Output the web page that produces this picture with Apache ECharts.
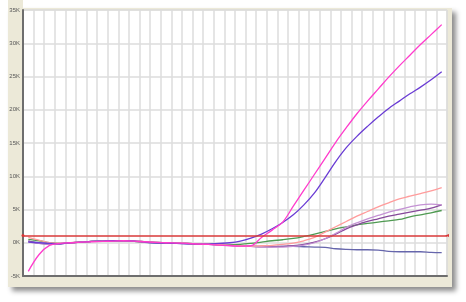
<!DOCTYPE html>
<html>
<head>
<meta charset="utf-8">
<script src="https://cdn.jsdelivr.net/npm/echarts@6/dist/echarts.min.js"></script>
<style>
html,body{margin:0;padding:0;background:#ffffff;}
#chart{width:466px;height:302px;}
</style>
</head>
<body>
<div id="chart"></div>
<script>
const cycles = [1,2,3,4,5,6,7,8,9,10,11,12,13,14,15,16,17,18,19,20,21,22,23,24,25,26,27,28,29,30,31,32,33,34,35,36,37,38,39,40];
const yTicks = [-5000,0,5000,10000,15000,20000,25000,30000,35000];
const threshold = 1100;

const magenta = [-4300,-1800,-400,-100,0,100,150,200,250,300,250,150,50,0,-50,-100,-200,-250,-350,-450,-500,-450,800,1900,3100,5500,7900,10300,12700,15100,17300,19400,21300,23100,24900,26600,28200,29800,31300,32800];
const violet = [100,0,-100,-150,0,100,200,250,300,300,250,100,0,-50,-100,-150,-200,-200,-100,0,250,700,1300,2100,3050,4200,5700,7500,9800,12200,14300,16000,17500,18900,20200,21300,22400,23400,24500,25700];
const salmon = [800,400,0,-100,0,100,200,250,250,250,200,150,50,0,-50,-100,-150,-200,-300,-400,-450,-500,-450,-400,-250,-50,300,800,1600,2400,3200,4000,4700,5400,6000,6600,7000,7400,7800,8300];
const green = [500,300,0,-100,0,100,200,250,250,250,200,150,50,0,-50,-100,-150,-200,-250,-300,-250,-100,100,300,450,650,950,1300,1700,2100,2400,2700,2900,3100,3300,3500,3900,4200,4500,4850];
const lilac = [100,-100,-200,-150,0,100,200,250,250,250,200,150,50,0,-50,-100,-150,-200,-300,-400,-500,-550,-600,-650,-650,-550,-350,0,600,1400,2300,3000,3600,4100,4600,5000,5400,5700,5800,5700];
const plum = [300,-100,-200,-150,0,100,200,250,300,300,250,150,50,0,-50,-100,-150,-200,-300,-400,-500,-550,-600,-600,-550,-450,-250,100,600,1300,2100,2700,3200,3600,4000,4300,4600,4900,5200,5700];
const slate = [200,0,-150,-150,0,100,200,250,250,300,200,50,-50,-100,-100,-150,-200,-250,-300,-400,-450,-500,-550,-550,-550,-550,-600,-650,-700,-900,-1000,-1050,-1050,-1100,-1300,-1350,-1350,-1350,-1450,-1500];

const seriesDefs = [
  {name:'slate', data:slate, color:'#6666ac'},
  {name:'green', data:green, color:'#4f9a52'},
  {name:'plum', data:plum, color:'#86489a'},
  {name:'lilac', data:lilac, color:'#c492d4'},
  {name:'salmon', data:salmon, color:'#ff9c9c'},
  {name:'violet', data:violet, color:'#6a3cd4'},
  {name:'magenta', data:magenta, color:'#ff3ccc'}
];

const chart = echarts.init(document.getElementById('chart'), null, {renderer:'canvas'});
const labelFont = {fontFamily:'Liberation Sans', fontSize:6, color:'#555555'};

const series = seriesDefs.map(function(s){
  return {
    name:s.name, type:'line', showSymbol:false, symbol:'none', smooth:0.35,
    data: cycles.map(function(c,i){ return [c, s.data[i]]; }),
    lineStyle:{color:s.color, width:1.3},
    itemStyle:{color:s.color},
    animation:false
  };
});
series.push({
  name:'threshold', type:'line', data:[], symbol:'none',
  markLine:{
    silent:true, symbol:['circle','triangle'], symbolSize:[3,4], symbolRotate:90,
    label:{show:false},
    lineStyle:{color:'#d83838', width:1.5, type:'solid'},
    data:[{yAxis:threshold}]
  },
  animation:false
});

chart.setOption({
  animation:false,
  backgroundColor:'#ffffff',
  graphic:{elements:[
    {type:'rect', z:-20, shape:{x:8,y:8,width:444,height:279},
     style:{fill:'#ECE9D8', shadowBlur:5, shadowOffsetX:4, shadowOffsetY:4, shadowColor:'rgba(0,0,0,0.45)'}},
    {type:'rect', z:-19, shape:{x:8,y:0,width:15,height:10}, style:{fill:'#ECE9D8'}}
  ]},
  grid:{left:23, right:19, top:10, bottom:26, show:true, backgroundColor:'#ffffff', borderColor:'#d6d3c4', borderWidth:1},
  xAxis:{
    type:'value', min:0.5, max:40.5, interval:1,
    axisLine:{show:true, onZero:false, lineStyle:{color:'#6e6e6e', width:2}},
    axisTick:{show:false},
    axisLabel:Object.assign({margin:5, showMinLabel:false, showMaxLabel:false,
      formatter:function(v){ return Number.isInteger(v) ? String(v) : ''; }}, labelFont),
    splitLine:{show:true, lineStyle:{color:'#dcdcdc', width:1.5}}
  },
  yAxis:{
    type:'value', min:yTicks[0], max:yTicks[yTicks.length-1], interval:5000,
    axisLine:{show:true, onZero:false, lineStyle:{color:'#6e6e6e', width:2}},
    axisTick:{show:false},
    axisLabel:Object.assign({margin:3, formatter:function(v){ return (v/1000)+'K'; }}, labelFont),
    splitLine:{show:true, lineStyle:{color:'#dcdcdc', width:1.5}}
  },
  series:series
});
</script>
</body>
</html>
